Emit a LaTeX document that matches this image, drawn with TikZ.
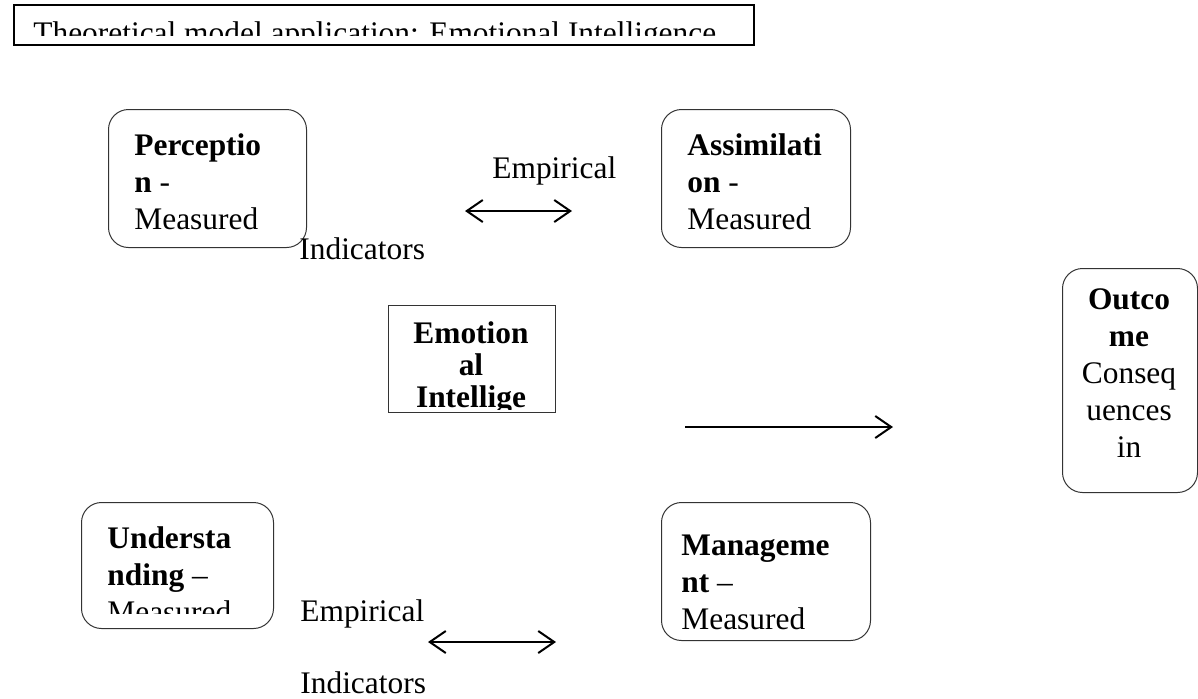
\documentclass[tikz,border=0pt]{standalone}
\usepackage{fontspec}
\setmainfont{Liberation Serif}
\usetikzlibrary{arrows.meta}

\newcommand{\boxfont}{\fontsize{15.7}{18.5}\selectfont}
\newcommand{\tightfont}{\fontsize{15.7}{16}\selectfont}

\begin{document}
\begin{tikzpicture}[x=0.5pt, y=-0.5pt]
        \useasboundingbox (0,0) rectangle (1198,698);
        \begin{scope}[every node/.style={draw=black!80, line width=0.5pt, inner sep=0pt, anchor=north west, rounded corners=10pt}]
                \node[draw=black, line width=1pt, rounded corners=0pt, minimum width=370pt, minimum height=20pt] (Title) at (13,4) {};
                \node[minimum width=99pt, minimum height=69pt] (Perc) at (108,109) {};
                \node[minimum width=94.5pt, minimum height=69pt] (Assim) at (661,109) {};
                \node[rounded corners=0pt, minimum width=83.5pt, minimum height=53.5pt] (EI) at (388,305) {};
                \node[minimum width=67.5pt, minimum height=112pt] (Out) at (1062,268) {};
                \node[minimum width=96pt, minimum height=63pt] (Under) at (81,502) {};
                \node[minimum width=104.5pt, minimum height=69pt] (Manage) at (661,502) {};
        \end{scope}
        \begin{scope}[every node/.style={font=\boxfont, inner sep=0pt, align=left, anchor=north west}]
                \begin{scope}
                        \clip (20,10) rectangle (745,35);
                        \node[anchor=base west] (TitleTxt) at (33,43) {Theoretical model application: Emotional Intelligence};
                \end{scope}
                \node (PercTxt) at (134,133.5) {\textbf{Perceptio}\\\textbf{n} -\\Measured};
                \node (AssimTxt) at (687,133.5) {\textbf{Assimilati}\\\textbf{on} -\\Measured};
                \begin{scope}
                        \clip (392,310) rectangle (551,409);
                        \node[anchor=north, align=center, font=\tightfont] (EITxt) at (471,321) {\textbf{Emotion}\\\textbf{al}\\\textbf{Intellige}};
                \end{scope}
                \node[anchor=north, align=center] (OutTxt) at (1129,288.5) {\textbf{Outco}\\\textbf{me}\\Conseq\\uences\\in};
                \begin{scope}
                        \clip (85,505) rectangle (270,613);
                        \node (UnderTxt) at (107,526) {\textbf{Understa}\\\textbf{nding} --\\Measured};
                \end{scope}
                \node (ManageTxt) at (681,534.5) {\textbf{Manageme}\\\textbf{nt} --\\Measured};
                \node[anchor=base west] (EmpTop) at (492,178) {Empirical};
                \node[anchor=base west] (IndTop) at (299,259) {Indicators};
                \node[anchor=base west] (EmpBot) at (300,621) {Empirical};
                \node[anchor=base west] (IndBot) at (300,693) {Indicators};
        \end{scope}
        \coordinate (TopL) at (465,211);
        \coordinate (TopR) at (572,211);
        \coordinate (MidL) at (685,427);
        \coordinate (MidR) at (893,427);
        \coordinate (BotL) at (428,642);
        \coordinate (BotR) at (556,642);
        \begin{scope}[every path/.style={line width=1pt, >={Straight Barb[length=8pt,width=11pt]}}]
                \path (TopL) edge[<->] (TopR);
                \path (MidL) edge[->] (MidR);
                \path (BotL) edge[<->] (BotR);
        \end{scope}
\end{tikzpicture}
\end{document}
